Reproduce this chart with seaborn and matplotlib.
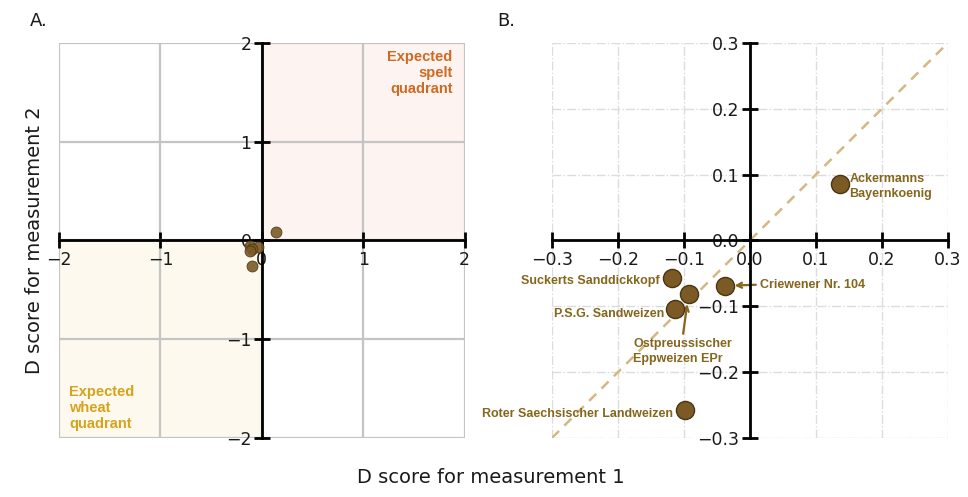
import matplotlib
matplotlib.use("Agg")
import matplotlib.pyplot as plt
import seaborn as sns
import pandas as pd
import numpy as np

# ---- data ----
varieties = ["Ackermanns\nBayernkoenig", "Suckerts Sanddickkopf", "Criewener Nr. 104",
             "Ostpreussischer\nEppweizen EPr", "P.S.G. Sandweizen",
             "Roter Saechsischer Landweizen"]
d1 = [0.137, -0.118, -0.038, -0.093, -0.114, -0.098]
d2 = [0.085, -0.057, -0.069, -0.082, -0.104, -0.257]
ticks_a = [-2, -1, 0, 1, 2]
ticks_b = [-0.3, -0.2, -0.1, 0.0, 0.1, 0.2, 0.3]

df = pd.DataFrame({"variety": varieties, "d1": d1, "d2": d2})

sns.set_theme(style="white")
plt.rcParams["font.family"] = ["DejaVu Sans"]

fig = plt.figure(figsize=(9.68, 4.97), dpi=100)
axA = fig.add_axes([0.061, 0.1187, 0.419, 0.795])
axB = fig.add_axes([0.5702, 0.1187, 0.409, 0.795])

pt_face = "#7b5a26"
pt_edge = "#4a3512"
txt_col = "#84661c"


def style_axes(ax, ticks, lim, grid_kw):
    ax.set_xlim(-lim, lim)
    ax.set_ylim(-lim, lim)
    ax.set_xticks(ticks)
    ax.set_yticks(ticks)
    for s in ["top", "right"]:
        ax.spines[s].set_visible(False)
    for s in ["left", "bottom"]:
        ax.spines[s].set_position("zero")
        ax.spines[s].set_color("black")
        ax.spines[s].set_linewidth(2)
        ax.spines[s].set_zorder(3)
    ax.tick_params(axis="both", direction="inout", length=11, width=2,
                   color="black", labelsize=12.5, labelcolor="#1a1a1a",
                   bottom=True, left=True, pad=2)
    ax.grid(True, **grid_kw)
    ax.set_axisbelow(True)
    ax.set_xlabel("")
    ax.set_ylabel("")


# ---- Panel A ----
axA.axvspan(0, 2, ymin=0.5, ymax=1.0, color="#fdf3f0", zorder=0, lw=0)
axA.axvspan(-2, 0, ymin=0.0, ymax=0.5, color="#fdf9ee", zorder=0, lw=0)
sns.scatterplot(data=df, x="d1", y="d2", ax=axA, s=62, color=pt_face,
                edgecolor=pt_edge, linewidth=0.6, alpha=0.9, zorder=4, legend=False)
style_axes(axA, ticks_a, 2, dict(color="#c4c4c4", linewidth=1.6, linestyle="-"))
axA.text(1.88, 1.93, "Expected\nspelt\nquadrant", ha="right", va="top",
         fontsize=10.5, fontweight="bold", color="#cf6a22", family="Liberation Sans",
         linespacing=1.2)
axA.text(-1.9, -1.46, "Expected\nwheat\nquadrant", ha="left", va="top",
         fontsize=10.5, fontweight="bold", color="#d4a41c", family="Liberation Sans",
         linespacing=1.2)

# ---- Panel B ----
axB.plot(ticks_b, ticks_b, linestyle=(0, (4, 3)), color="#d4b883", lw=1.8, zorder=2)
sns.scatterplot(data=df, x="d1", y="d2", ax=axB, s=170, color=pt_face,
                edgecolor=pt_edge, linewidth=1.0, zorder=5, legend=False)
style_axes(axB, ticks_b, 0.3, dict(color="#dcdcdc", linewidth=1.0, linestyle="-."))

lab_kw = dict(fontsize=9, fontweight="bold", color=txt_col, family="Liberation Sans")
# plain labels
axB.text(d1[0] + 0.014, d2[0] - 0.003, varieties[0], ha="left", va="center",
         linespacing=1.3, **lab_kw)
axB.text(d1[1] - 0.019, d2[1] - 0.005, varieties[1], ha="right", va="center", **lab_kw)
axB.text(d1[4] - 0.016, d2[4] - 0.007, varieties[4], ha="right", va="center", **lab_kw)
axB.text(d1[5] - 0.018, d2[5] - 0.006, varieties[5], ha="right", va="center", **lab_kw)
# arrow labels
arrow = dict(arrowstyle="->", color=txt_col, lw=1.6, shrinkA=1, shrinkB=7)
axB.annotate(varieties[2], xy=(d1[2], d2[2]), xytext=(0.016, -0.067),
             ha="left", va="center", arrowprops=dict(arrow, relpos=(0, 0.5)), **lab_kw)
axB.annotate(varieties[3], xy=(d1[3], d2[3]), xytext=(-0.177, -0.169),
             ha="left", va="center", linespacing=1.3,
             arrowprops=dict(arrow, relpos=(0.5, 1.0)), **lab_kw)

# ---- figure texts ----
fig.text(0.031, 0.958, "A.", fontsize=13, ha="left", va="center", color="#1a1a1a")
fig.text(0.514, 0.958, "B.", fontsize=13, ha="left", va="center", color="#1a1a1a")
fig.text(0.036, 0.516, "D score for measurement 2", rotation=90, fontsize=14,
         ha="center", va="center", color="#1a1a1a")
fig.text(0.507, 0.02, "D score for measurement 1", fontsize=14,
         ha="center", va="bottom", color="#1a1a1a")

fig.savefig("out.png", dpi=100)
